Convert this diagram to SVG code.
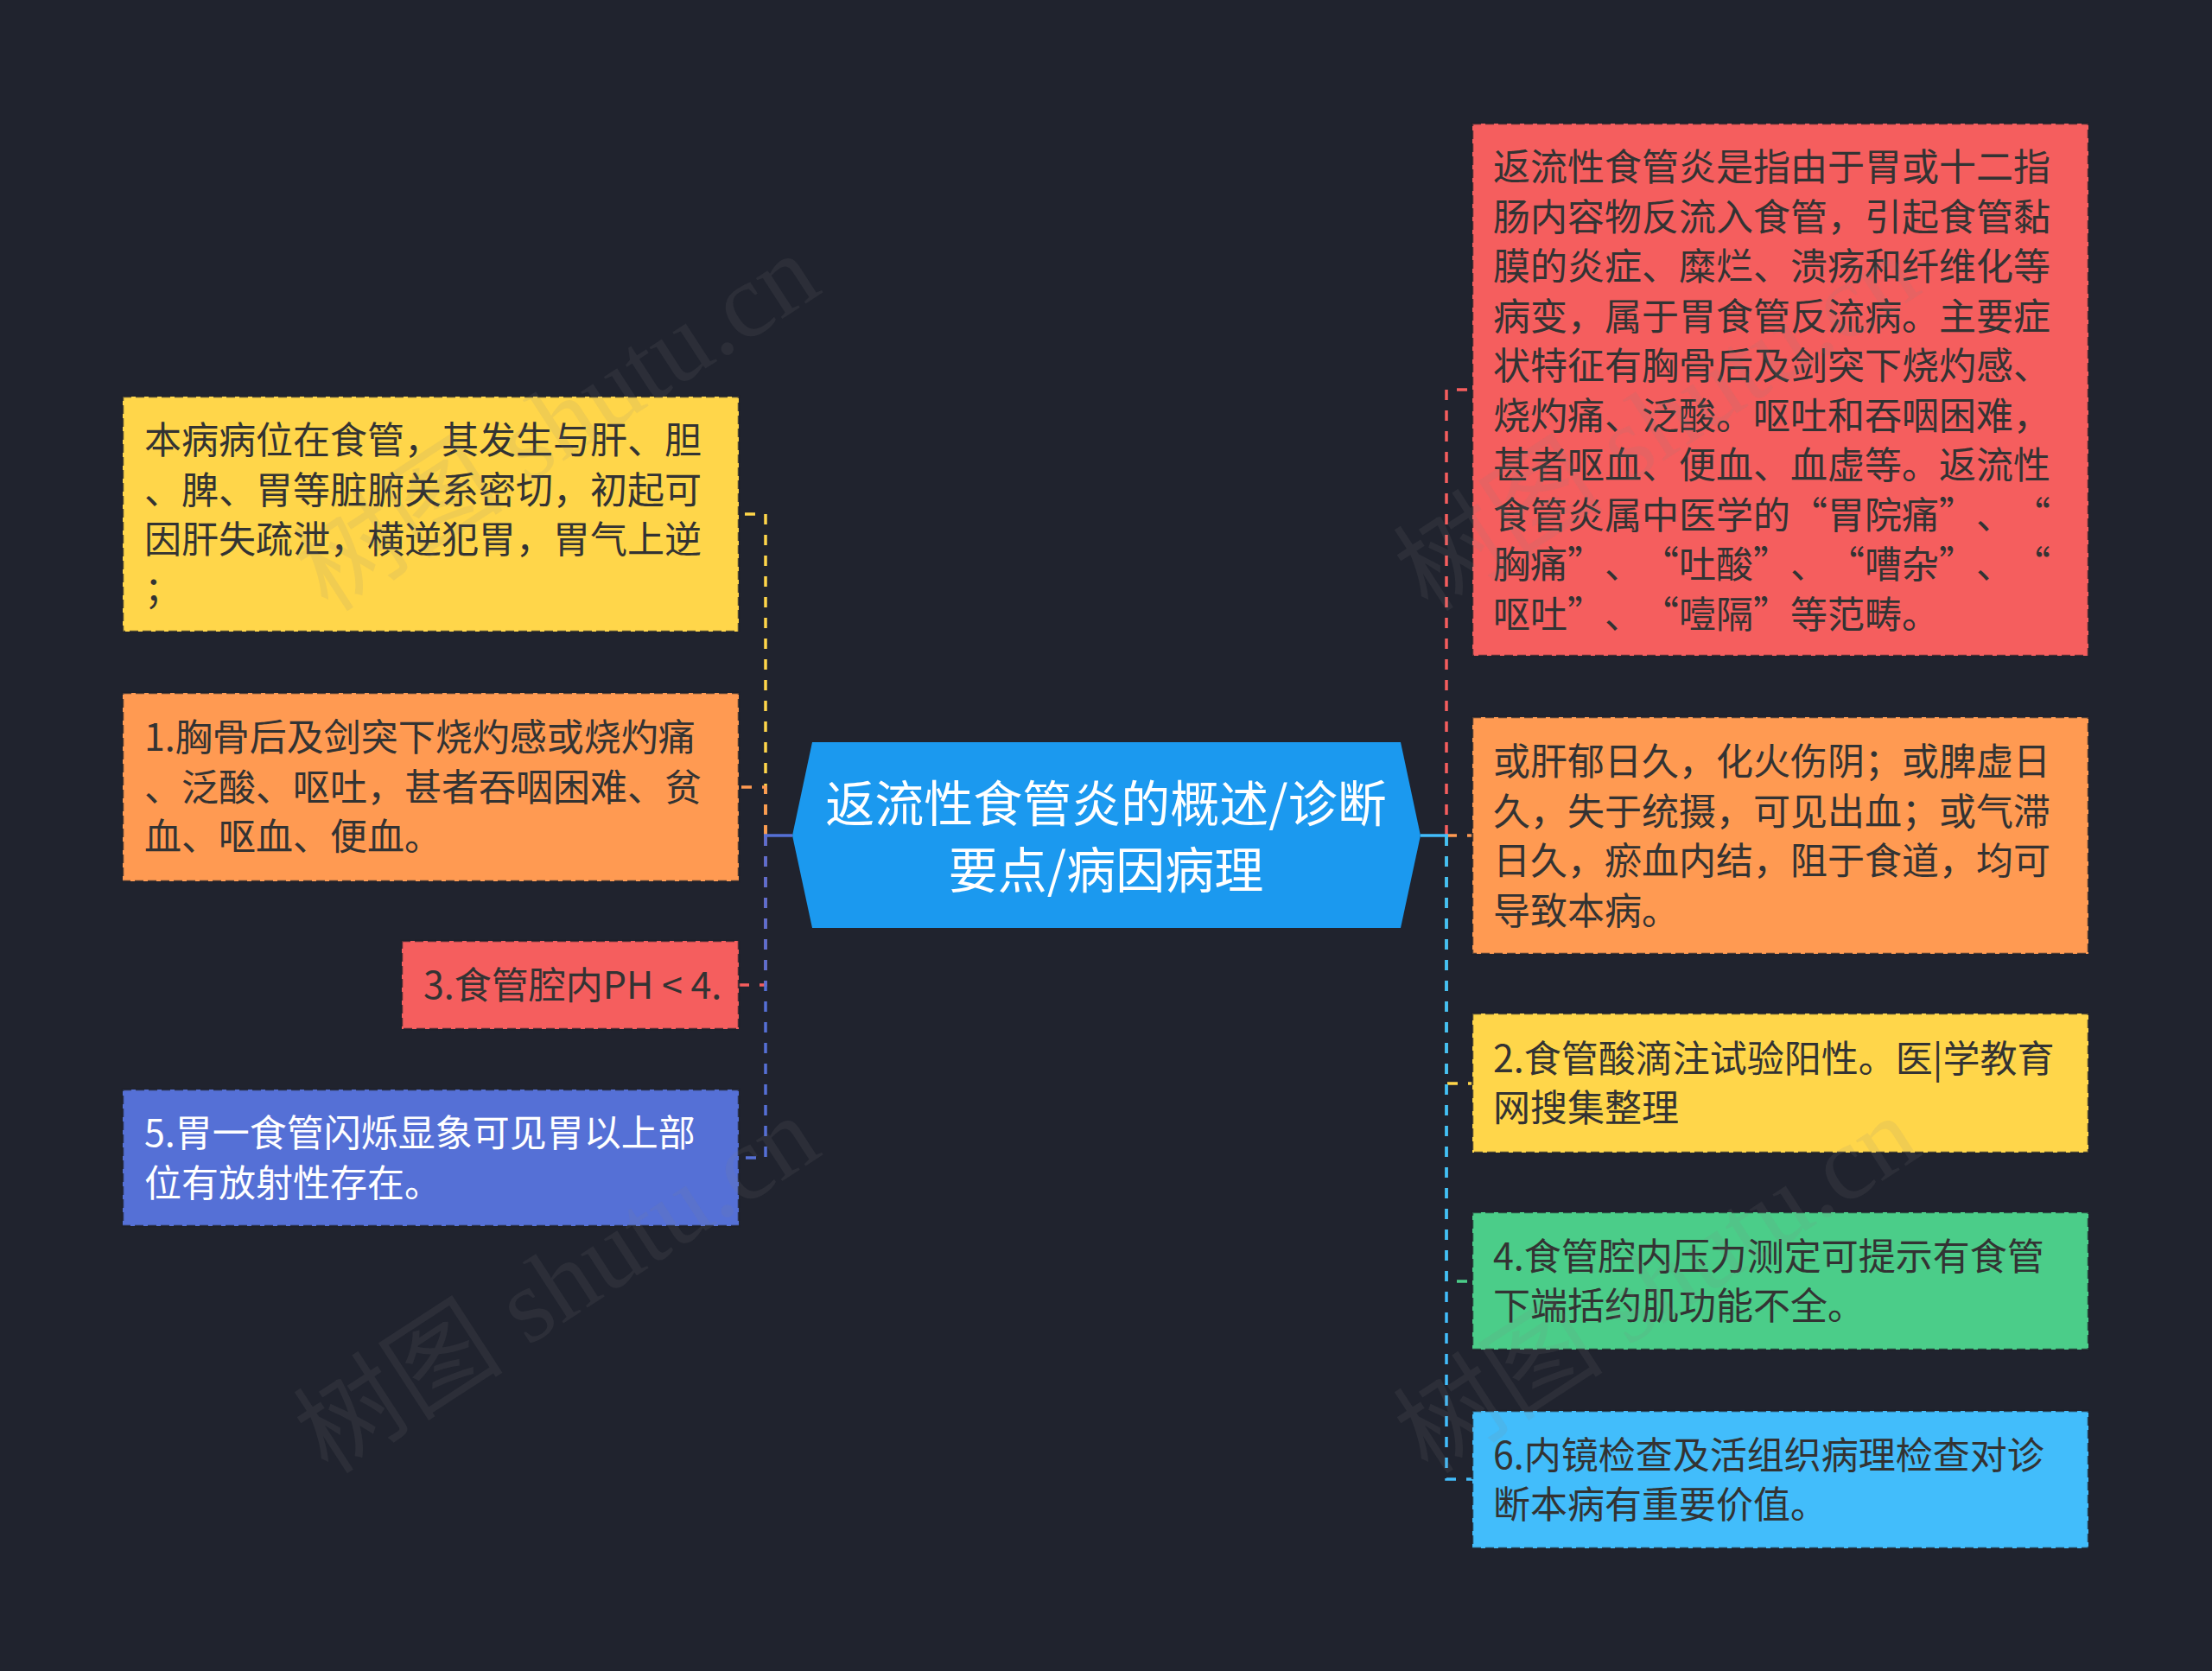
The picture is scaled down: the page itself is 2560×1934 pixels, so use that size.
<svg xmlns="http://www.w3.org/2000/svg" width="2560" height="1934" viewBox="0 0 2560 1934">
<style>
.bg{fill:#20232e}
.box{stroke:#1e2029;stroke-opacity:0.75;stroke-width:2.5;stroke-dasharray:10 5}
.t{font-family:"Noto Sans CJK SC","Noto Sans",sans-serif;font-size:43px;fill:#333333}
.tw{fill:#ffffff}
.ct{font-family:"Noto Sans CJK SC","Noto Sans",sans-serif;font-size:57px;fill:#ffffff;text-anchor:middle}
.c{fill:none;stroke-width:3.5;stroke-dasharray:12 12}
.stem{fill:none;stroke-width:3.5}
.wm{font-family:"Liberation Serif","Noto Sans CJK SC",serif;font-size:122px;fill:#808080;fill-opacity:0.12}
</style>
<rect class="bg" x="0" y="0" width="2560" height="1934"/>

<g id="connectors">
  <path class="c" stroke="#FFD64A" d="M886 967 V595 H855"/>
  <path class="c" stroke="#FF9A52" d="M886 967 V911 H855"/>
  <path class="c" stroke="#F55E5E" d="M886 967 V1140 H855"/>
  <path class="c" stroke="#5570D6" d="M886 967 V1340 H855"/>
  <path class="stem" stroke="#5570D6" d="M917 967 H884"/>
  <path class="c" stroke="#F55E5E" d="M1674 967 V451 H1704"/>
  <path class="c" stroke="#FF9A52" d="M1674 967 H1704"/>
  <path class="c" stroke="#FFD64A" d="M1674 967 V1254 H1704"/>
  <path class="c" stroke="#4BCD89" d="M1674 967 V1483 H1704"/>
  <path class="c" stroke="#42BDFB" d="M1674 967 V1712 H1704"/>
  <path class="stem" stroke="#42BDFB" d="M1644 967 H1676"/>
</g>

<g id="center">
  <polygon points="940,859 1621,859 1644,967 1621,1074 940,1074 917,967" fill="#1B99EF"/>
  <text class="ct" x="1280" y="951">返流性食管炎的概述/诊断</text>
  <text class="ct" x="1280" y="1028">要点/病因病理</text>
</g>

<g id="node-l1">
  <rect class="box" x="142" y="459" width="713" height="272" fill="#FFD64A"/>
  <text class="t">
    <tspan x="167" y="525">本病病位在食管，其发生与肝、胆</tspan>
    <tspan x="167" y="582.5">、脾、胃等脏腑关系密切，初起可</tspan>
    <tspan x="167" y="640">因肝失疏泄，横逆犯胃，胃气上逆</tspan>
    <tspan x="167" y="697.5">；</tspan>
  </text>
</g>

<g id="node-l2">
  <rect class="box" x="142" y="802" width="713" height="218" fill="#FF9A52"/>
  <text class="t">
    <tspan x="167" y="869">1.胸骨后及剑突下烧灼感或烧灼痛</tspan>
    <tspan x="167" y="926.5">、泛酸、呕吐，甚者吞咽困难、贫</tspan>
    <tspan x="167" y="984">血、呕血、便血。</tspan>
  </text>
</g>

<g id="node-l3">
  <rect class="box" x="465" y="1089" width="390" height="102" fill="#F55E5E"/>
  <text class="t" x="490" y="1156">3.食管腔内PH &lt; 4.</text>
</g>

<g id="node-l4">
  <rect class="box" x="142" y="1261" width="713" height="158" fill="#5570D6"/>
  <text class="t tw">
    <tspan x="167" y="1327">5.胃一食管闪烁显象可见胃以上部</tspan>
    <tspan x="167" y="1384.5">位有放射性存在。</tspan>
  </text>
</g>

<g id="node-r1">
  <rect class="box" x="1704" y="143" width="713" height="616" fill="#F55E5E"/>
  <text class="t">
    <tspan x="1728" y="209">返流性食管炎是指由于胃或十二指</tspan>
    <tspan x="1728" y="266.5">肠内容物反流入食管，引起食管黏</tspan>
    <tspan x="1728" y="324">膜的炎症、糜烂、溃疡和纤维化等</tspan>
    <tspan x="1728" y="381.5">病变，属于胃食管反流病。主要症</tspan>
    <tspan x="1728" y="439">状特征有胸骨后及剑突下烧灼感、</tspan>
    <tspan x="1728" y="496.5">烧灼痛、泛酸。呕吐和吞咽困难，</tspan>
    <tspan x="1728" y="554">甚者呕血、便血、血虚等。返流性</tspan>
  </text>
  <text class="t" y="611.5"><tspan x="1728">食管炎属中医学的</tspan><tspan x="2115" text-anchor="end">“</tspan><tspan x="2115">胃院痛</tspan><tspan x="2244">”</tspan><tspan x="2287">、</tspan><tspan x="2373" text-anchor="end">“</tspan></text>
  <text class="t" y="669"><tspan x="1728">胸痛</tspan><tspan x="1814">”</tspan><tspan x="1857">、</tspan><tspan x="1943" text-anchor="end">“</tspan><tspan x="1943">吐酸</tspan><tspan x="2029">”</tspan><tspan x="2072">、</tspan><tspan x="2158" text-anchor="end">“</tspan><tspan x="2158">嘈杂</tspan><tspan x="2244">”</tspan><tspan x="2287">、</tspan><tspan x="2373" text-anchor="end">“</tspan></text>
  <text class="t" y="726.5"><tspan x="1728">呕吐</tspan><tspan x="1814">”</tspan><tspan x="1857">、</tspan><tspan x="1943" text-anchor="end">“</tspan><tspan x="1943">噎隔</tspan><tspan x="2029">”</tspan><tspan x="2072">等范畴。</tspan></text>
</g>

<g id="node-r2">
  <rect class="box" x="1704" y="830" width="713" height="274" fill="#FF9A52"/>
  <text class="t">
    <tspan x="1728" y="897">或肝郁日久，化火伤阴；或脾虚日</tspan>
    <tspan x="1728" y="954.5">久，失于统摄，可见出血；或气滞</tspan>
    <tspan x="1728" y="1012">日久，瘀血内结，阻于食道，均可</tspan>
    <tspan x="1728" y="1069.5">导致本病。</tspan>
  </text>
</g>

<g id="node-r3">
  <rect class="box" x="1704" y="1173" width="713" height="161" fill="#FFD64A"/>
  <text class="t">
    <tspan x="1728" y="1240.5">2.食管酸滴注试验阳性。医|学教育</tspan>
    <tspan x="1728" y="1298">网搜集整理</tspan>
  </text>
</g>

<g id="node-r4">
  <rect class="box" x="1704" y="1403" width="713" height="159" fill="#4BCD89"/>
  <text class="t">
    <tspan x="1728" y="1469.5">4.食管腔内压力测定可提示有食管</tspan>
    <tspan x="1728" y="1527">下端括约肌功能不全。</tspan>
  </text>
</g>

<g id="node-r5">
  <rect class="box" x="1704" y="1633" width="713" height="159" fill="#42BDFB"/>
  <text class="t">
    <tspan x="1728" y="1699.5">6.内镜检查及活组织病理检查对诊</tspan>
    <tspan x="1728" y="1757">断本病有重要价值。</tspan>
  </text>
</g>

<g id="watermarks">
  <text class="wm" x="380" y="710" transform="rotate(-33 380 710)">树图 shutu.cn</text>
  <text class="wm" x="1653" y="710" transform="rotate(-33 1653 710)">树图 shutu.cn</text>
  <text class="wm" x="380" y="1708" transform="rotate(-33 380 1708)">树图 shutu.cn</text>
  <text class="wm" x="1653" y="1708" transform="rotate(-33 1653 1708)">树图 shutu.cn</text>
</g>
</svg>
